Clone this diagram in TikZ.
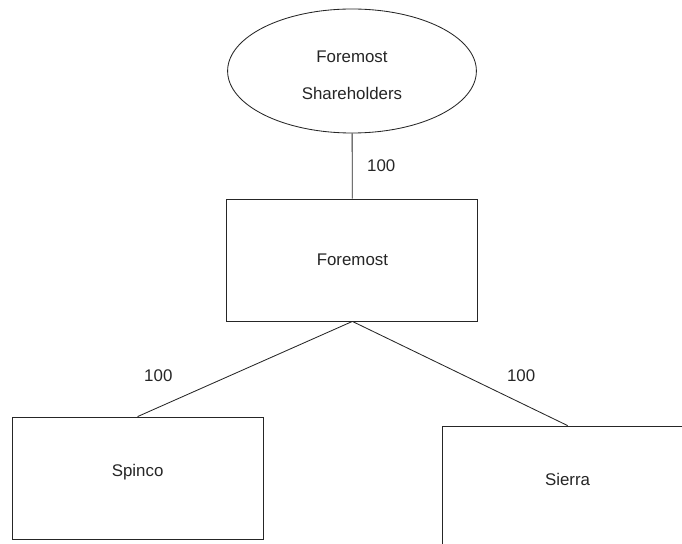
\documentclass[tikz,border=0pt]{standalone}
\usepackage{fontspec}
\setmainfont{Liberation Sans}
\usepackage{tikz}
\usetikzlibrary{shapes,arrows}
\usetikzlibrary{positioning}
\tikzset{minimum size=0pt, node distance=1cm, font=\fontsize{12}{14}\selectfont}
\tikzstyle{company} = [draw=black!85, line width=0.6pt, fill=white, rectangle, minimum height=3.05cm, minimum width=6.275cm, text centered, align=center, text=black!85]
\tikzstyle{subsidiary} = [company, text depth=0.36cm]
\tikzstyle{holders} = [draw=black!85, line width=0.6pt, fill=white, ellipse, inner sep=0pt, minimum height=3.1cm, minimum width=6.22cm, align=center, text=black!85]
\tikzstyle{link} = [draw=black!85, line width=0.6pt]
\tikzstyle{share} = [text=black!85, inner sep=1pt]

\begin{document}
\begin{tikzpicture}
		\useasboundingbox (0,0) rectangle (17.05,-13.6);
		\clip (0,0) rectangle (17.05,-13.6);
		\node [holders] (shareholders) at (8.8,-1.775) {\rule{0pt}{0.5cm}Foremost\\[12pt]Shareholders};
		\node [company] (foremost) at (8.81,-6.5) {Foremost};
		\node [subsidiary] (spinco) at (3.44,-11.95) {Spinco};
		\node [subsidiary] (sierra) at (14.19,-12.175) {Sierra};

		\draw [link] (shareholders) -- node [share, pos=0.49, xshift=0.725cm] {100} (foremost);
		\draw [link] (foremost.south) -- node [share, pos=0.573, xshift=-1.775cm] {100} (spinco.north);
		\draw [link] (foremost.south) -- node [share, pos=0.524, xshift=1.4cm] {100} (sierra.north);
	\end{tikzpicture}
\end{document}
